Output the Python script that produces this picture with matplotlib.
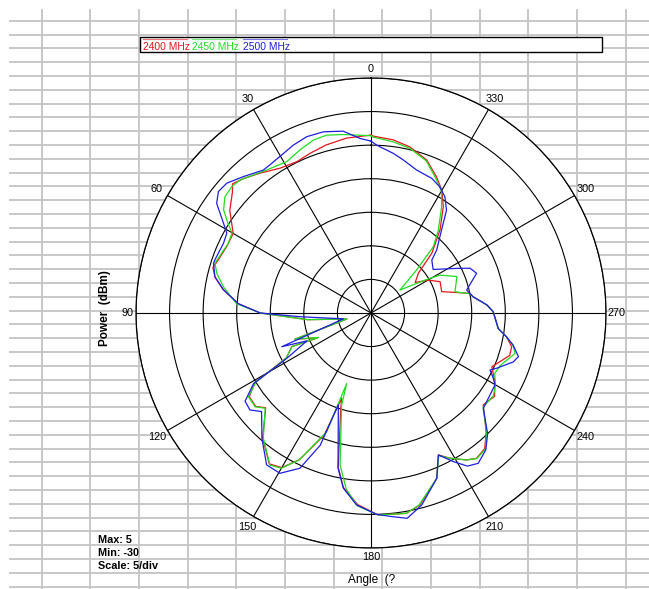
import numpy as np
import matplotlib.pyplot as plt
from matplotlib.patches import Rectangle

# Series labels and colours
freqs = ["2400 MHz", "2450 MHz", "2500 MHz"]
colors = ["#e8141e", "#22dd22", "#1e1ee0"]

# Angle (deg) and power (dBm), in drawing order
ang_2400 = [0, 8, 15, 21, 26, 32, 38.5, 43.5, 47, 49, 54, 60, 65, 71, 74, 77, 81, 86, 90,
            96, 104, 109, 115, 113, 118, 121, 124.5, 129, 132, 139, 146, 150, 154, 159, 161,
            162.5, 168, 171, 176, 182, 190, 194.3, 201.7, 205.4, 208.5, 213, 216, 220, 224,
            230.7, 236, 241, 246, 253, 256.5, 260, 263, 270.6, 274, 279, 281.3, 286.8, 294.4,
            300, 304.6, 310, 314.5, 320.3, 325.8, 330, 334.3, 340, 346.8, 352.7, 359.3, 360]
pwr_2400 = [-3.5, -3.7, -4.1, -4.55, -4.9, -4.55, -3.4, -2.4, -1.8, -2.65, -4.0, -6.3, -6.35,
            -5.9, -5.5, -6.15, -7.7, -10.2, -13.5, -20.5, -26.3, -18.0, -21.2, -17.2, -15.7,
            -9.8, -8.0, -7.9, -8.9, -5.4, -2.9, -3.4, -5.7, -10.5, -16.6, -15.0, -6.5, -3.7,
            -1.4, 0.1, 0.3, -0.5, -3.5, -6.6, -5.4, -3.9, -3.25, -3.65, -5.3, -8.4, -7.8,
            -8.9, -10.3, -8.4, -8.45, -9.5, -10.9, -11.8, -12.7, -14.6, -15.0, -19.0, -18.7,
            -20.2, -22.0, -20.8, -17.3, -13.9, -10.85, -8.9, -7.5, -5.75, -4.6, -4.0, -3.65,
            -3.5]

ang_2450 = [0, 8.8, 14, 18.4, 23.5, 29, 36, 44.6, 47.8, 51.5, 55, 58, 60, 64, 68, 72.3, 75.6,
            80, 86, 90, 96, 104, 109, 115, 113, 118, 121, 124.3, 129, 132, 139.3, 146.4, 150,
            154, 159.5, 161, 162.3, 168.5, 172, 176, 182, 190, 194, 201.7, 205.4, 208.5, 213,
            216, 220, 224, 230, 236, 240, 244, 248, 254.4, 257, 260, 263, 270.6, 274, 279, 281,
            284.2, 293, 298.8, 301.4, 308.4, 313.3, 316.8, 320.9, 326.4, 330, 334.8, 340, 346.7,
            352.6, 359.2, 360]
pwr_2450 = [-3.6, -3.1, -2.7, -2.85, -3.5, -4.2, -3.65, -2.2, -2.0, -2.2, -3.2, -4.9, -6.1,
            -6.35, -6.05, -5.6, -6.3, -7.7, -9.9, -13.5, -20.5, -26.3, -18.0, -21.4, -17.2,
            -15.7, -10.0, -7.9, -7.8, -8.8, -5.4, -2.8, -3.3, -5.7, -11.1, -18.9, -15.6, -6.9,
            -3.5, -1.2, 0.1, 0.3, -0.5, -3.5, -6.5, -5.4, -3.9, -3.2, -3.5, -5.2, -8.2, -8.0,
            -8.6, -9.5, -9.2, -7.7, -8.3, -9.5, -10.9, -11.8, -12.7, -14.6, -15.0, -17.1,
            -16.1, -18.3, -20.6, -24.5, -20.7, -16.45, -14.1, -11.0, -9.0, -7.6, -5.9, -4.8,
            -4.3, -3.8, -3.6]

ang_2500 = [0, 3.6, 8.7, 14.7, 20, 24.8, 28.8, 33.6, 37, 43, 48, 51.5, 54.6, 58.7, 61, 64.7,
            71, 72.5, 77, 81, 86, 90, 93, 102, 110.7, 113.5, 118.3, 121, 125, 128.7, 132, 139,
            145.5, 150.4, 155.4, 159, 160.4, 168, 171, 175.7, 181.6, 186, 190, 194.8, 201.7,
            205.4, 209, 212.2, 215.5, 220, 224, 229.7, 232.5, 239.9, 241.9, 244.4, 246.3, 251,
            253.5, 257.3, 260, 263, 270.6, 274, 279, 283.5, 290.6, 294.3, 297.5, 305, 311,
            313.8, 319.6, 323.7, 327.5, 331.4, 335.7, 342.3, 348.1, 352, 358, 360]
pwr_2500 = [-4.4, -3.95, -2.6, -2.1, -2.05, -2.45, -2.9, -3.25, -3.35, -2.2, -1.1, -0.96, -1.8,
            -4.3, -5.45, -5.7, -5.45, -5.4, -6.15, -7.74, -10.2, -13.5, -19.4, -25.8, -15.8,
            -19.6, -15.75, -9.6, -7.1, -6.9, -8.07, -5.24, -2.55, -2.54, -4.57, -8.9, -15.5,
            -6.4, -3.6, -1.33, 0.0, 0.5, 1.05, -0.42, -3.5, -6.6, -4.7, -3.05, -2.5, -3.4,
            -5.0, -8.07, -8.3, -8.65, -9.35, -10.35, -9.55, -7.6, -7.1, -8.3, -9.5, -10.9,
            -11.8, -12.7, -14.6, -15.35, -13.2, -13.8, -15.6, -18.7, -18.0, -16.45, -13.8,
            -11.0, -9.5, -8.6, -8.0, -7.65, -6.7, -6.0, -5.0, -4.4]

series = [(ang_2400, pwr_2400), (ang_2450, pwr_2450), (ang_2500, pwr_2500)]

angle_ticks = list(range(0, 360, 30))

sans = ["Liberation Sans", "DejaVu Sans"]

W, H = 649, 589
fig = plt.figure(figsize=(W / 100, H / 100), dpi=100)

# spreadsheet-like grid behind everything
bg = fig.add_axes([0, 0, 1, 1])
bg.set_xlim(0, W)
bg.set_ylim(H, 0)
bg.axis("off")
for x in np.arange(41.7, W, 48.65):
    bg.plot([x, x], [10, H], color="#c4c4c4", lw=1.3, zorder=0)
for y in np.arange(20.7, H, 13.8):
    bg.plot([10, W], [y, y], color="#c4c4c4", lw=1.3, zorder=0)

# legend box
bg.add_patch(Rectangle((140, 36.7), 462, 15, facecolor="white", edgecolor="black", lw=1, zorder=2))
for label, col, x0 in zip(freqs, colors, [143, 192, 243]):
    bg.text(x0, 49.5, label, color=col, fontsize=7.4, family=sans, va="baseline", zorder=3)
    bg.plot([x0, x0 + 44], [39, 39], color=col, lw=0.8, alpha=0.6, zorder=3)

# side texts
bg.text(105, 308, "Power  (dBm)", rotation=90, ha="center", va="center", fontsize=8.5,
        family=sans, weight="bold", zorder=3)
bg.text(98, 553, "Max: 5\nMin: -30\nScale: 5/div", fontsize=7.8, family=sans, weight="bold",
        va="center", linespacing=1.35, zorder=3)
bg.text(372, 580, "Angle  (?", ha="center", va="center", fontsize=8.5, family=sans, zorder=3)

# polar chart
cx, cy, R = 371, 313, 235
ax = fig.add_axes([(cx - R) / W, (H - cy - R) / H, 2 * R / W, 2 * R / H], projection="polar")
ax.set_zorder(1)
ax.set_facecolor("white")
ax.set_theta_zero_location("N")
ax.set_theta_direction(1)
ax.set_ylim(-30, 5)
ax.set_yticks(np.arange(-25, 6, 5))
ax.set_yticklabels([])
ax.set_xticks(np.radians(angle_ticks))
ax.set_xticklabels([])
ax.grid(True, color="black", lw=0.8)
ax.spines["polar"].set_color("black")
ax.spines["polar"].set_linewidth(0.9)
ax.tick_params(axis="both", length=0)

# angle labels just outside the rim
for a in angle_ticks:
    if a == 270:
        r_lab = 6.55
    elif a % 90 == 0:
        r_lab = 6.3
    else:
        r_lab = 6.85
    ax.text(np.radians(a), r_lab, str(a), ha="center", va="center", fontsize=7.8,
            family=sans, clip_on=False)

for (ang, pwr), col in zip(series, colors):
    ax.plot(np.radians(ang), pwr, color=col, lw=0.9)

fig.savefig("out.png", dpi=100)
